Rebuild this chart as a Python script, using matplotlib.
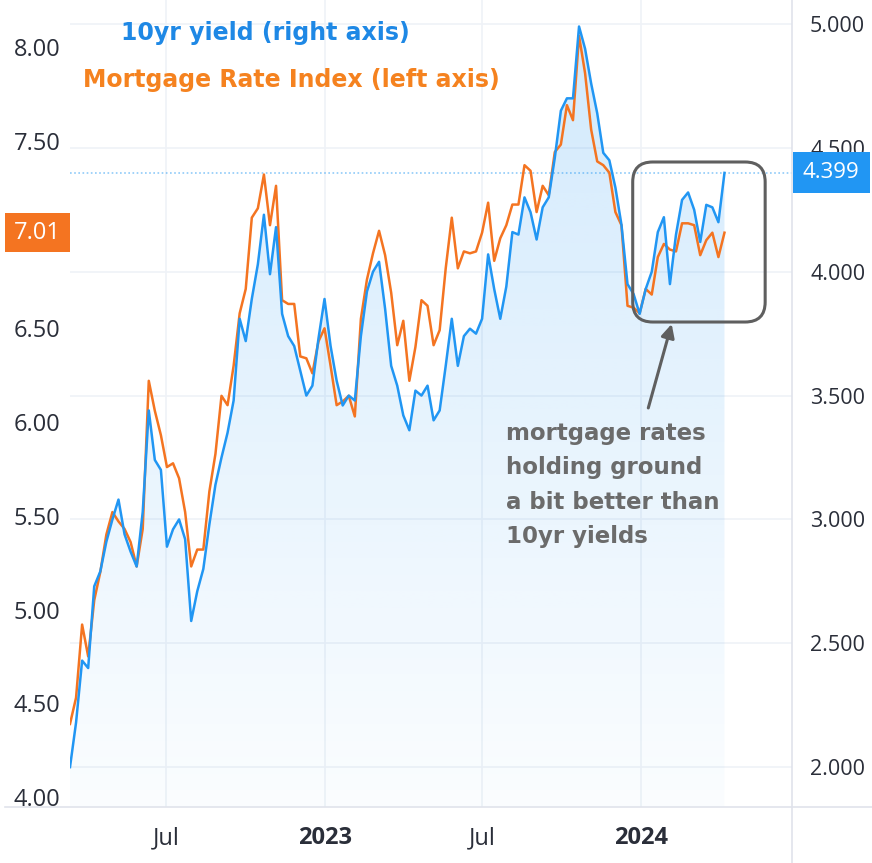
import numpy as np
import pandas as pd
import matplotlib
matplotlib.use("Agg")
import matplotlib.pyplot as plt
import matplotlib.dates as mdates
import matplotlib.transforms as mtransforms
from matplotlib.patches import FancyBboxPatch, Rectangle
from matplotlib.lines import Line2D
from matplotlib.colors import to_rgb

plt.rcParams['font.family'] = ['Open Sans', 'DejaVu Sans']

# weekly readings, 2022-03-12 .. 2024-04-06
dates = pd.date_range("2022-03-12", periods=109, freq="7D")

yield10 = [
    2.00, 2.18, 2.43, 2.40, 2.73, 2.79, 2.91, 3.00, 3.08, 2.94,
    2.87, 2.81, 3.03, 3.44, 3.24, 3.20, 2.89, 2.96, 3.00, 2.92,
    2.59, 2.71, 2.80, 2.98, 3.14, 3.25, 3.35, 3.48, 3.81, 3.72,
    3.89, 4.03, 4.23, 3.99, 4.18, 3.83, 3.74, 3.70, 3.60, 3.50,
    3.54, 3.73, 3.89, 3.70, 3.56, 3.46, 3.50, 3.48, 3.74, 3.92,
    4.00, 4.04, 3.85, 3.62, 3.54, 3.42, 3.36, 3.52, 3.50, 3.54,
    3.40, 3.44, 3.62, 3.81, 3.62, 3.74, 3.77, 3.75, 3.81, 4.07,
    3.93, 3.81, 3.94, 4.16, 4.15, 4.30, 4.24, 4.13, 4.26, 4.30,
    4.46, 4.65, 4.70, 4.70, 4.99, 4.90, 4.76, 4.64, 4.48, 4.45,
    4.34, 4.19, 3.95, 3.91, 3.83, 3.93, 4.00, 4.16, 4.22, 3.95,
    4.15, 4.29, 4.32, 4.25, 4.12, 4.27, 4.26, 4.20, 4.399]

mortgage = [
    4.39, 4.53, 4.92, 4.75, 5.05, 5.20, 5.40, 5.52, 5.47, 5.43,
    5.36, 5.23, 5.43, 6.22, 6.06, 5.93, 5.76, 5.78, 5.70, 5.52,
    5.23, 5.32, 5.32, 5.63, 5.83, 6.14, 6.09, 6.30, 6.58, 6.71,
    7.09, 7.14, 7.32, 7.05, 7.26, 6.65, 6.63, 6.63, 6.35, 6.34,
    6.26, 6.43, 6.50, 6.30, 6.09, 6.11, 6.14, 6.03, 6.55, 6.76,
    6.90, 7.02, 6.89, 6.69, 6.41, 6.54, 6.22, 6.40, 6.65, 6.62,
    6.41, 6.49, 6.82, 7.09, 6.82, 6.91, 6.90, 6.91, 7.01, 7.17,
    6.86, 6.98, 7.05, 7.16, 7.16, 7.37, 7.34, 7.12, 7.26, 7.21,
    7.44, 7.48, 7.69, 7.61, 8.06, 7.86, 7.56, 7.39, 7.37, 7.33,
    7.12, 7.05, 6.62, 6.61, 6.58, 6.71, 6.68, 6.88, 6.95, 6.92,
    6.91, 7.06, 7.06, 7.05, 6.89, 6.97, 7.01, 6.88, 7.01]

tick_dates = ["2022-07-01", "2023-01-01", "2023-07-01", "2024-01-01"]
tick_labels = ["Jul", "2023", "Jul", "2024"]
left_ticks = [4.0, 4.5, 5.0, 5.5, 6.0, 6.5, 7.5, 8.0]   # 7.00 sits under the price tag
right_ticks = [2.0, 2.5, 3.0, 3.5, 4.0, 4.5, 5.0]

BLUE = "#2196f3"
ORANGE = "#f47421"
GRID = "#eff2f7"
AXLINE = "#e0e3eb"
TXT = "#2a2e39"

W, H = 872, 863
fig = plt.figure(figsize=(W / 100, H / 100), dpi=100)
fig.patch.set_facecolor("white")

ax = fig.add_axes([70 / W, 56 / H, 722 / W, 807 / H])
xmin = mdates.date2num(pd.Timestamp("2022-03-12"))
xmax = mdates.date2num(pd.Timestamp("2024-06-23"))
ylo, yhi = 1.839, 5.097
mlo, mhi = 3.947, 8.251

# gradient area under the 10yr line
poly = ax.fill_between(dates, yield10, ylo, facecolor="none", edgecolor="none")
img = np.zeros((256, 1, 4))
img[..., :3] = to_rgb(BLUE)
img[..., 3] = np.linspace(0.21, 0.02, 256)[:, None]
im = ax.imshow(img, extent=[mdates.date2num(dates[0]), mdates.date2num(dates[-1]), ylo, yhi],
               aspect="auto", origin="upper", interpolation="bilinear", zorder=1)
im.set_clip_path(poly.get_paths()[0], transform=ax.transData)

ax.axhline(yield10[-1], color=BLUE, lw=1.2, ls=(0, (1, 1.5)), alpha=0.5, zorder=2)

ax.set_xlim(xmin, xmax)
ax.set_ylim(ylo, yhi)
ax.set_yticks(right_ticks)
ax.set_yticklabels(["%.3f" % v for v in right_ticks])
ax.set_xticks(mdates.date2num(pd.to_datetime(tick_dates)))
ax.set_xticklabels(tick_labels)
for lab in ax.get_xticklabels():
    if lab.get_text().isdigit():
        lab.set_fontweight("bold")
ax.grid(True, color=GRID, lw=1.2)
ax.set_axisbelow(True)
for s in ax.spines.values():
    s.set_visible(False)

# mortgage index on the left axis
axm = ax.twinx()
axm.plot(dates, mortgage, color=ORANGE, lw=1.8, zorder=3)
axm.plot(mdates.date2num(dates), yield10, color=BLUE, lw=1.8, zorder=4,
         transform=ax.transData)
axm.set_xlim(xmin, xmax)
axm.set_ylim(mlo, mhi)
axm.set_yticks(left_ticks)
axm.set_yticklabels(["%.2f" % v for v in left_ticks])
for s in axm.spines.values():
    s.set_visible(False)

# twinx flips the sides, put them back
ax.yaxis.tick_right()
axm.yaxis.tick_left()
ax.tick_params(axis="y", length=0, pad=13, labelsize=15.5, labelcolor=TXT)
ax.tick_params(axis="x", length=0, pad=14, labelsize=17, labelcolor=TXT)
axm.tick_params(axis="y", length=0, pad=7, labelsize=17, labelcolor=TXT)

# frame lines and cover under the bottom axis
fig.add_artist(Rectangle((0, 0), 70 / W, 56 / H, transform=fig.transFigure,
                         facecolor="white", edgecolor="none", zorder=1))
fig.add_artist(Line2D([5 / W, 1], [56 / H, 56 / H], transform=fig.transFigure,
                      color=AXLINE, lw=1.2, zorder=1.5))
fig.add_artist(Line2D([792 / W, 792 / W], [0, 1], transform=fig.transFigure,
                      color=AXLINE, lw=1.2, zorder=1.5))

# last value tags
yb = ax.transData.transform((xmin, yield10[-1]))[1]
fig.add_artist(Rectangle((793 / W, (yb - 20) / H), 77 / W, 41 / H, transform=fig.transFigure,
                         facecolor=BLUE, edgecolor="none", zorder=2))
fig.text(831 / W, yb / H, "%.3f" % yield10[-1], ha="center", va="center",
         color="white", fontsize=16, zorder=3)
yo = axm.transData.transform((xmin, mortgage[-1]))[1]
fig.add_artist(Rectangle((5 / W, (yo - 19) / H), 65 / W, 39 / H, transform=fig.transFigure,
                         facecolor=ORANGE, edgecolor="none", zorder=2))
fig.text(37 / W, yo / H, "%.2f" % mortgage[-1], ha="center", va="center",
         color="white", fontsize=17, zorder=3)

# legend-like titles
fig.text(265 / W, 1 - 33 / H, "10yr yield (right axis)", ha="center", va="center",
         fontsize=17, fontweight="bold", color="#1e88e5", family="DejaVu Sans")
fig.text(291 / W, 1 - 80 / H, "Mortgage Rate Index (left axis)", ha="center", va="center",
         fontsize=17, fontweight="bold", color="#f5821f", family="DejaVu Sans")

# rounded box around recent months
d = lambda s: mdates.date2num(pd.Timestamp(s))
x0, y0 = ax.transData.transform((d("2023-12-22"), 3.797))
x1, y1 = ax.transData.transform((d("2024-05-23"), 4.443))
box = FancyBboxPatch((x0, y0), x1 - x0, y1 - y0, boxstyle="round,pad=0,rounding_size=20",
                     transform=mtransforms.IdentityTransform(), facecolor="none",
                     edgecolor="#5f5f5f", lw=2.2, zorder=5)
fig.add_artist(box)

ax.annotate("", xy=(d("2024-02-05"), 3.789), xytext=(d("2024-01-09"), 3.450),
            arrowprops=dict(arrowstyle="-|>,head_length=0.8,head_width=0.4",
                            color="#5f5f5f", lw=2.2, shrinkA=0, shrinkB=0), zorder=6)
ax.text(d("2023-07-29"), 3.395, "mortgage rates\nholding ground\na bit better than\n10yr yields",
        ha="left", va="top", fontsize=16.5, fontweight="bold", color="#6b6b6b",
        linespacing=1.64, family="DejaVu Sans", zorder=6)

fig.savefig("out.png", dpi=100)
